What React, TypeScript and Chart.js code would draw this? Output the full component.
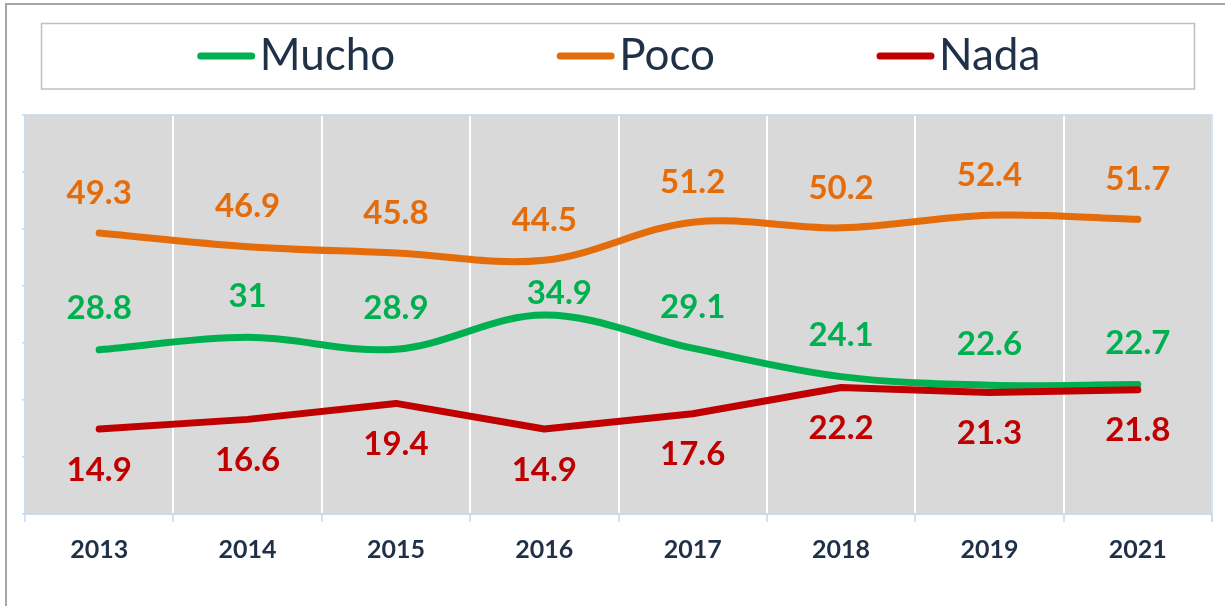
import React, { useEffect, useRef } from "react";
import { Chart, registerables } from "chart.js";

Chart.register(...registerables);

const categories = ["2013", "2014", "2015", "2016", "2017", "2018", "2019", "2021"];
const muchoValues = [28.8, 31, 28.9, 34.9, 29.1, 24.1, 22.6, 22.7];
const pocoValues = [49.3, 46.9, 45.8, 44.5, 51.2, 50.2, 52.4, 51.7];
const nadaValues = [14.9, 16.6, 19.4, 14.9, 17.6, 22.2, 21.3, 21.8];
const seriesNames = ["Mucho", "Poco", "Nada"];
const yMin = 0;
const yMax = 70;
const yStep = 10;

const GREEN = "#00b050";
const ORANGE = "#e46c0a";
const RED = "#c00000";
const NAVY = "#1f3047";
const AXIS_BLUE = "#c6d9f1";
const FONT = "Lato, 'Open Sans', sans-serif";

const legendColors = [GREEN, ORANGE, RED];

const framePlugin = {
  id: "frame",
  beforeDraw(chart: any) {
    const { ctx, chartArea } = chart;
    ctx.save();
    // outer chart border
    ctx.strokeStyle = "#a6a6a6";
    ctx.lineWidth = 2;
    ctx.strokeRect(6, 4, 1400, 800);
    // legend box
    ctx.strokeStyle = "#bfbfbf";
    ctx.lineWidth = 1.5;
    ctx.strokeRect(41.5, 23.5, 1153, 65.5);
    // legend items
    ctx.font = `44px ${FONT}`;
    ctx.textBaseline = "middle";
    const lineLen = 57;
    const gapText = 5;
    const itemGap = 162;
    const widths = seriesNames.map((n) => lineLen + gapText + ctx.measureText(n).width);
    const total = widths.reduce((a, b) => a + b, 0) + itemGap * (seriesNames.length - 1);
    let x = 619 - total / 2;
    const y = 56;
    seriesNames.forEach((name, i) => {
      ctx.strokeStyle = legendColors[i];
      ctx.lineWidth = 7;
      ctx.lineCap = "round";
      ctx.beginPath();
      ctx.moveTo(x + 3, y);
      ctx.lineTo(x + lineLen - 3, y);
      ctx.stroke();
      ctx.fillStyle = NAVY;
      ctx.fillText(name, x + lineLen + gapText, y);
      x += widths[i] + itemGap;
    });
    // plot area background
    ctx.fillStyle = "#d9d9d9";
    ctx.fillRect(chartArea.left, chartArea.top, chartArea.right - chartArea.left, chartArea.bottom - chartArea.top);
    ctx.restore();
  },
  beforeDatasetsDraw(chart: any) {
    const { ctx, chartArea } = chart;
    ctx.save();
    ctx.strokeStyle = AXIS_BLUE;
    ctx.lineWidth = 1.5;
    ctx.strokeRect(chartArea.left, chartArea.top, chartArea.right - chartArea.left, chartArea.bottom - chartArea.top);
    ctx.beginPath();
    ctx.moveTo(chartArea.right, chartArea.bottom);
    ctx.lineTo(chartArea.right, chartArea.bottom + 8);
    ctx.stroke();
    ctx.restore();
  },
  afterDatasetsDraw(chart: any) {
    const { ctx } = chart;
    ctx.save();
    ctx.font = `bold 33px ${FONT}`;
    ctx.textAlign = "center";
    ctx.textBaseline = "middle";
    chart.data.datasets.forEach((ds: any, di: number) => {
      const meta = chart.getDatasetMeta(di);
      ctx.fillStyle = ds.borderColor;
      meta.data.forEach((pt: any, i: number) => {
        const nudge = (ds.labelNudges && ds.labelNudges[i]) || [0, 0];
        ctx.fillText(String(ds.data[i]), pt.x + nudge[0], pt.y + ds.labelOffset + nudge[1]);
      });
    });
    ctx.restore();
  },
};

export default function App() {
  const ref = useRef<HTMLCanvasElement>(null);
  useEffect(() => {
    if (!ref.current) return;
    const chart = new Chart(ref.current, {
      type: "line",
      data: {
        labels: categories,
        datasets: [
          {
            label: seriesNames[2],
            data: nadaValues,
            borderColor: RED,
            borderWidth: 7,
            tension: 0,
            pointRadius: 0,
            borderCapStyle: "round",
            borderJoinStyle: "round",
            order: 0,
            labelOffset: 41,
          } as any,
          {
            label: seriesNames[0],
            data: muchoValues,
            borderColor: GREEN,
            borderWidth: 7,
            tension: 0.35,
            pointRadius: 0,
            borderCapStyle: "round",
            order: 1,
            labelOffset: -41,
            labelNudges: { 3: [15, 19] },
          } as any,
          {
            label: seriesNames[1],
            data: pocoValues,
            borderColor: ORANGE,
            borderWidth: 7,
            tension: 0.35,
            pointRadius: 0,
            borderCapStyle: "round",
            order: 2,
            labelOffset: -40,
          } as any,
        ],
      },
      options: {
        animation: false,
        responsive: false,
        layout: { padding: { left: 25, top: 115, right: 13, bottom: 0 } },
        plugins: { legend: { display: false }, tooltip: { enabled: false } },
        scales: {
          x: {
            offset: true,
            grid: {
              offset: true,
              color: "#ffffff",
              lineWidth: 2,
              tickColor: AXIS_BLUE,
              tickLength: 8,
              tickWidth: 1.5,
            },
            border: { color: AXIS_BLUE, width: 1.5 },
            ticks: {
              color: NAVY,
              font: { family: FONT, size: 25, weight: "bold" },
              padding: 13,
              maxRotation: 0,
            },
            afterFit(scale: any) {
              scale.height = 92;
            },
          },
          y: {
            min: yMin,
            max: yMax,
            ticks: { display: false, stepSize: yStep },
            grid: {
              drawOnChartArea: false,
              tickLength: 3,
              color: AXIS_BLUE,
              tickColor: AXIS_BLUE,
              lineWidth: 1.5,
            },
            border: { color: AXIS_BLUE, width: 1.5 },
            afterFit(scale: any) {
              scale.width = 0;
            },
          },
        },
      } as any,
      plugins: [framePlugin],
    });
    return () => chart.destroy();
  }, []);
  return (
    <div style={{ position: "absolute", left: 0, top: 0, width: 1225, height: 606, background: "#fff" }}>
      <canvas ref={ref} width={1225} height={606} />
    </div>
  );
}
